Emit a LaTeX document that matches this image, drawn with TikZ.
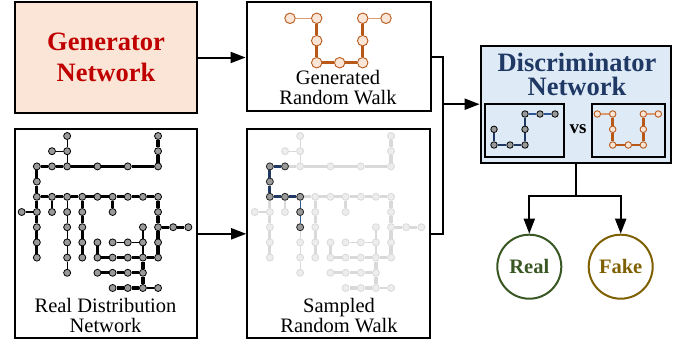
\documentclass[tikz,border=0pt]{standalone}
\usepackage{fontspec}
\setmainfont{Liberation Serif}
\usetikzlibrary{arrows.meta}

\definecolor{genfill}{HTML}{FBE5D6}
\definecolor{gentext}{HTML}{C00000}
\definecolor{discfill}{HTML}{DEEBF7}
\definecolor{disctext}{HTML}{1F3864}
\definecolor{walkblue}{HTML}{1F3864}
\definecolor{walkblueb}{HTML}{2F5597}
\definecolor{walkorange}{HTML}{B8591A}
\definecolor{walkorangeb}{HTML}{D99A70}
\definecolor{realgreen}{HTML}{385723}
\definecolor{fakegold}{HTML}{7F6000}
\definecolor{nodegray}{HTML}{9A9A9A}
\definecolor{fadegray}{HTML}{D9D9D9}
\definecolor{fadefill}{HTML}{EDEDED}

% grid nodes of the distribution network (column/row)
\def\netnodes{3/0,9/0,2/1,3/1,9/1,1/2,2/2,3/2,5/2,7/2,9/2,1/3,%
1/4,2/4,3/4,4/4,5/4,6/4,7/4,8/4,9/4,0/5,1/5,2/5,3/5,4/5,6/5,9/5,%
1/6,3/6,4/6,8/6,9/6,10/6,11/6,1/7,3/7,4/7,5/7,6/7,7/7,8/7,9/7,%
1/8,3/8,4/8,5/8,6/8,7/8,8/8,9/8,3/9,5/9,6/9,7/9,8/9,6/10,7/10,8/10,9/10}
\def\thicklinks{9-0/9-1,9-1/9-2,1-2/2-2,2-2/3-2,3-2/5-2,5-2/7-2,7-2/9-2,%
1-2/1-3,1-3/1-4,1-4/2-4,2-4/3-4,3-4/4-4,4-4/5-4,5-4/6-4,6-4/7-4,7-4/8-4,8-4/9-4,%
1-4/1-5,1-5/1-6,1-6/1-7,1-7/1-8,4-4/4-5,4-5/4-6,4-6/4-7,4-7/4-8,6-4/6-5,%
9-4/9-5,9-5/9-6,9-6/9-7,9-7/9-8,9-6/10-6,10-6/11-6,8-8/8-9,8-9/8-10,5-7/5-8,%
5-8/6-8,6-8/7-8,7-8/8-8,8-8/9-8,5-9/6-9,6-9/7-9,7-9/8-9,6-10/7-10,7-10/8-10}
\def\thinlinks{3-0/3-1,2-1/3-1,3-1/3-2,0-5/1-5,2-4/2-5,3-4/3-5,3-5/3-6,%
3-6/3-7,3-7/3-8,3-8/3-9,8-6/8-7,8-7/8-8,6-7/7-7,7-7/8-7,8-10/9-10}

\begin{document}
\begin{tikzpicture}[x=1pt, y=-1pt,
  box/.style={draw, line width=2.2pt, inner sep=0pt},
  caption/.style={font=\rmfamily\fontsize{20.5}{20}\selectfont, align=center, inner sep=0pt, anchor=south},
  link/.style={line width=2pt},
  arrow/.style={line width=2pt, -{Triangle[length=15pt,width=11pt]}},
  dot/.style={circle, draw=black, fill=nodegray, line width=0.8pt, inner sep=0pt, minimum size=7pt},
  fdot/.style={circle, draw=fadegray, fill=fadefill, line width=0.8pt, inner sep=0pt, minimum size=7pt},
  gdot/.style={circle, draw=walkorange, fill=genfill, line width=0.9pt, inner sep=0pt, minimum size=#1},
  gdot/.default=10.5pt,
  thicklink/.style={line width=3.2pt},
  thinlink/.style={line width=1.2pt},
  endpoint/.style={circle, draw=realgreen, line width=2pt, minimum size=64pt, inner sep=0pt,
    font=\bfseries\fontsize{20.5}{20}\selectfont}]
  \useasboundingbox (0,0) rectangle (691,343);

  % generator
  \node[box, fill=genfill, minimum width=182pt, minimum height=111pt, text=gentext, align=center,
    font=\bfseries\fontsize{26.5}{31}\selectfont] (gen) at (106,57.5) {Generator\\Network};

  % generated random walk
  \node[box, minimum width=184pt, minimum height=109pt] (gwalk) at (338.7,56.5) {};
  \node[caption] (gwalklbl) at (338,105) {Generated\\Random Walk};
  \foreach \n/\x/\y in {1/290/18.3,2/316.7/18.3,3/316.7/40.7,4/316.7/62.7,5/339.7/62.7,
    6/362.7/62.7,7/362.7/40.7,8/362.7/18.3,9/386/18.3}
    \node[gdot] (g-\n) at (\x,\y) {};
  \draw[thinlink, walkorangeb] (g-1) -- (g-2);
  \draw[thicklink, walkorange] (g-2) -- (g-3) -- (g-4) -- (g-5) -- (g-6) -- (g-7) -- (g-8);
  \draw[thinlink, walkorangeb] (g-8) -- (g-9);

  % real distribution network
  \node[box, minimum width=181.7pt, minimum height=209pt] (real) at (105.85,233.8) {};
  \node[caption] (reallbl) at (105.5,333) {Real Distribution\\Network};
  \foreach \c/\r in \netnodes
    \node[dot] (r-\c-\r) at ({21.7+15.15*\c},{136+15.2*\r}) {};
  \foreach \a/\b in \thicklinks
    \draw[thicklink] (r-\a) -- (r-\b);
  \foreach \a/\b in \thinlinks
    \draw[thinlink] (r-\a) -- (r-\b);

  % sampled random walk
  \node[box, minimum width=182.7pt, minimum height=209pt] (swalk) at (338.65,233.8) {};
  \node[caption] (swalklbl) at (339,333) {Sampled\\Random Walk};
  \foreach \c/\r in \netnodes
    \node[fdot] (s-\c-\r) at ({254.7+15.15*\c},{136+15.2*\r}) {};
  \foreach \a/\b in \thicklinks
    \draw[thicklink, fadegray] (s-\a) -- (s-\b);
  \foreach \a/\b in \thinlinks
    \draw[thinlink, fadegray] (s-\a) -- (s-\b);
  \foreach \c/\r in {2/2,1/2,1/3,1/4,2/4,3/4,3/5,3/6}
    \node[dot, draw=black!85] (w-\c-\r) at (s-\c-\r) {};
  \draw[thicklink, walkblue] (w-2-2) -- (w-1-2) -- (w-1-3) -- (w-1-4) -- (w-2-4) -- (w-3-4);
  \draw[thinlink, walkblueb] (w-3-4) -- (w-3-5) -- (w-3-6);

  % discriminator
  \node[box, fill=discfill, minimum width=190pt, minimum height=117pt] (disc) at (575.7,104.2) {};
  \node[inner sep=0pt, anchor=south, align=center, text=disctext,
    font=\bfseries\fontsize{26.5}{24}\selectfont] (disctitle) at (577,95.7) {Discriminator\\Network};
  \node[box, minimum width=79pt, minimum height=53.3pt] (dleft) at (524.5,130.7) {};
  \node[box, minimum width=73.6pt, minimum height=53.3pt] (dright) at (628.5,130.7) {};
  \node[font=\bfseries\fontsize{19}{19}\selectfont] (vs) at (578,129.5) {vs};
  \foreach \n/\x/\y in {1/494/129.3,2/494/145,3/510/145,4/525/145,5/525/129.3,
    6/525/114,7/540/114,8/555/114}
    \node[dot, minimum size=6.5pt] (d-\n) at (\x,\y) {};
  \draw[line width=2.6pt, walkblue] (d-1) -- (d-2) -- (d-3) -- (d-4) -- (d-5) -- (d-6);
  \draw[thinlink, walkblueb] (d-6) -- (d-7) -- (d-8);
  \foreach \n/\x/\y in {1/597.3/114,2/612.7/114,3/612.7/129.3,4/612.7/145,5/628.3/145,
    6/643.3/145,7/643.3/129.3,8/643.3/114,9/658.3/114}
    \node[gdot=6.5pt] (f-\n) at (\x,\y) {};
  \draw[thinlink, walkorangeb] (f-1) -- (f-2);
  \draw[line width=2.6pt, walkorange] (f-2) -- (f-3) -- (f-4) -- (f-5) -- (f-6) -- (f-7) -- (f-8);
  \draw[thinlink, walkorangeb] (f-8) -- (f-9);

  % outcomes
  \node[endpoint, text=realgreen] (realc) at (529.3,266.7) {Real};
  \node[endpoint, draw=fakegold, text=fakegold] (fakec) at (620.7,266.7) {Fake};

  % connectors
  \coordinate (join) at (443,104.2);
  \coordinate (split) at (575.7,195.7);
  \draw[arrow] (gen.east) -- (gen.east -| gwalk.west);
  \draw[arrow] (real) -- (swalk);
  \draw[link] (gwalk.east) -| (join);
  \draw[link] (swalk.east) -| (join);
  \draw[arrow] (join) -- (disc.west);
  \draw[link] (disc.south) -- (split);
  \draw[arrow] (split) -| (realc.north);
  \draw[arrow] (split) -| (fakec.north);
\end{tikzpicture}
\end{document}
